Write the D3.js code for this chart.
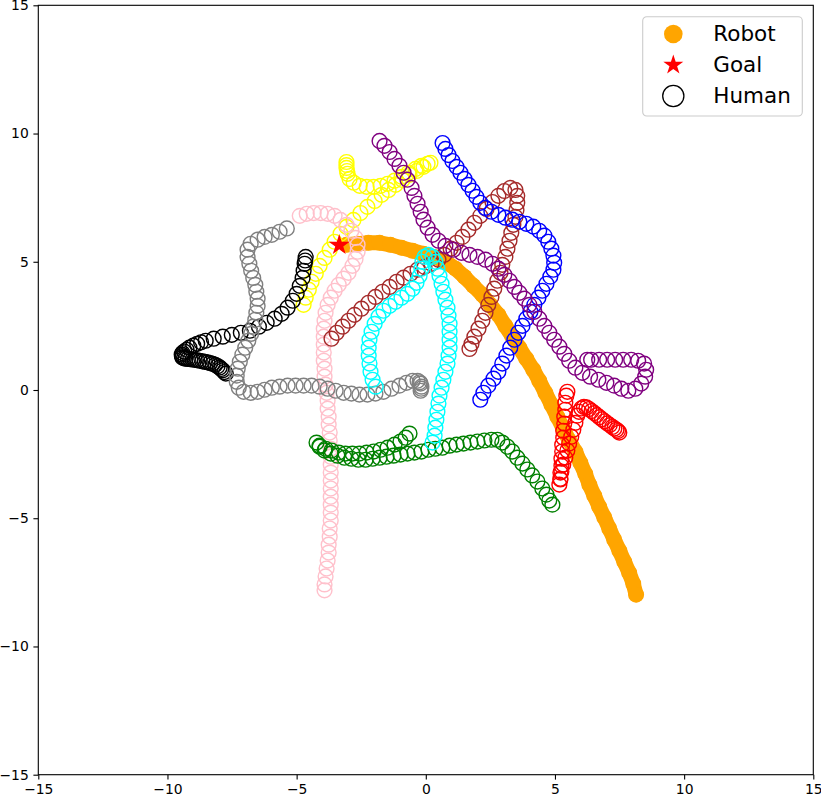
<!DOCTYPE html>
<html>
<head>
<meta charset="utf-8">
<script src="https://cdn.jsdelivr.net/npm/d3@7"></script>
<style>
  body { margin: 0; background: #fff; }
  svg { display: block; font-family: "DejaVu Sans", sans-serif; }
</style>
</head>
<body>
<div id="chart"></div>
<script>
// axis ticks
var tickValues = [-15, -10, -5, 0, 5, 10, 15];

// robot path (filled orange)
var robot = [[-3.07,5.66],[-2.64,5.70],[-2.22,5.74],[-1.79,5.74],[-1.37,5.66],[-0.94,5.55],[-0.51,5.43],[-0.09,5.31],[0.34,5.19],[0.76,5.00],[1.15,4.73],[1.50,4.41],[1.84,4.06],[2.19,3.71],[2.50,3.32],[2.81,2.93],[3.08,2.50],[3.35,2.08],[3.62,1.65],[3.89,1.22],[4.16,0.79],[4.39,0.36],[4.63,-0.11],[4.86,-0.57],[5.09,-1.04],[5.32,-1.51],[5.55,-1.97],[5.79,-2.40],[5.98,-2.83],[6.17,-3.26],[6.33,-3.69],[6.52,-4.12],[6.71,-4.55],[6.91,-4.97],[7.10,-5.40],[7.29,-5.83],[7.49,-6.26],[7.68,-6.69],[7.87,-7.12],[8.03,-7.55],[8.14,-7.98]];

var goal = [-3.35, 5.65];

// human paths (open circles)
var yellowHuman = [[-3.07,8.89],[-3.07,8.77],[-3.07,8.66],[-3.05,8.54],[-3.03,8.43],[-2.95,8.23],[-2.79,8.08],[-2.56,7.96],[-2.29,7.92],[-2.02,7.92],[-1.75,7.96],[-1.48,8.04],[-1.21,8.16],[-0.94,8.31],[-0.67,8.47],[-0.40,8.62],[-0.17,8.74],[0.07,8.82],[0.18,8.86],[-0.09,8.70],[-0.36,8.54],[-0.63,8.39],[-0.90,8.19],[-1.17,8.00],[-1.44,7.80],[-1.71,7.61],[-1.98,7.37],[-2.26,7.14],[-2.53,6.90],[-2.80,6.63],[-3.07,6.36],[-3.30,6.09],[-3.53,5.78],[-3.72,5.47],[-3.92,5.15],[-4.11,4.84],[-4.26,4.53],[-4.42,4.22],[-4.53,3.91],[-4.65,3.60],[-4.73,3.32]];

var pinkHuman = [[-4.88,6.79],[-4.61,6.87],[-4.34,6.90],[-4.07,6.90],[-3.80,6.87],[-3.53,6.79],[-3.30,6.63],[-3.07,6.44],[-2.88,6.21],[-2.72,5.93],[-2.64,5.66],[-2.64,5.39],[-2.72,5.11],[-2.84,4.84],[-2.99,4.57],[-3.18,4.34],[-3.37,4.10],[-3.53,3.87],[-3.68,3.60],[-3.80,3.32],[-3.88,3.01],[-3.92,2.70],[-3.95,2.39],[-3.95,2.08],[-3.95,1.77],[-3.95,1.46],[-3.95,1.14],[-3.92,0.83],[-3.92,0.52],[-3.88,0.21],[-3.84,-0.11],[-3.80,-0.42],[-3.80,-0.73],[-3.76,-1.04],[-3.76,-1.35],[-3.72,-1.66],[-3.72,-1.97],[-3.68,-2.29],[-3.68,-2.60],[-3.68,-2.91],[-3.68,-3.22],[-3.68,-3.53],[-3.68,-3.84],[-3.68,-4.16],[-3.68,-4.47],[-3.68,-4.78],[-3.68,-5.09],[-3.72,-5.40],[-3.72,-5.72],[-3.76,-6.03],[-3.76,-6.34],[-3.80,-6.65],[-3.84,-6.96],[-3.88,-7.27],[-3.92,-7.58],[-3.92,-7.81]];

var blackHuman = [[-4.65,5.19],[-4.67,5.05],[-4.69,4.92],[-4.73,4.65],[-4.77,4.37],[-4.88,4.06],[-5.00,3.75],[-5.15,3.48],[-5.35,3.21],[-5.58,2.97],[-5.85,2.78],[-6.16,2.62],[-6.46,2.47],[-6.81,2.31],[-7.16,2.23],[-7.51,2.15],[-7.86,2.08],[-8.21,2.00],[-8.52,1.92],[-8.70,1.86],[-8.85,1.80],[-9.00,1.73],[-9.15,1.65],[-9.26,1.57],[-9.35,1.50],[-9.42,1.44],[-9.45,1.38],[-9.44,1.32],[-9.42,1.27],[-9.36,1.24],[-9.30,1.22],[-9.21,1.21],[-9.12,1.20],[-9.03,1.19],[-8.95,1.18],[-8.85,1.16],[-8.75,1.14],[-8.65,1.12],[-8.55,1.10],[-8.45,1.08],[-8.35,1.05],[-8.25,1.02],[-8.15,0.98],[-8.06,0.93],[-7.98,0.88],[-7.92,0.82],[-7.86,0.77],[-7.80,0.70],[-7.74,0.64]];

var grayHuman = [[-5.38,6.30],[-5.66,6.17],[-5.96,6.05],[-6.24,5.97],[-6.51,5.86],[-6.78,5.70],[-6.90,5.47],[-6.90,5.19],[-6.83,4.92],[-6.76,4.65],[-6.68,4.37],[-6.60,4.10],[-6.56,3.83],[-6.51,3.56],[-6.51,3.28],[-6.56,3.01],[-6.60,2.74],[-6.68,2.47],[-6.76,2.19],[-6.87,1.92],[-6.99,1.65],[-7.10,1.38],[-7.20,1.10],[-7.28,0.83],[-7.32,0.56],[-7.32,0.32],[-7.24,0.09],[-7.05,-0.07],[-6.78,-0.11],[-6.51,-0.07],[-6.24,0.01],[-5.96,0.09],[-5.66,0.13],[-5.35,0.17],[-5.04,0.17],[-4.73,0.17],[-4.42,0.17],[-4.11,0.13],[-3.80,0.05],[-3.49,-0.03],[-3.18,-0.11],[-2.88,-0.14],[-2.57,-0.18],[-2.26,-0.18],[-1.95,-0.14],[-1.64,-0.07],[-1.33,0.05],[-1.02,0.17],[-0.75,0.28],[-0.51,0.36],[-0.32,0.36],[-0.24,0.30],[-0.20,0.25],[-0.17,0.13],[-0.18,0.05],[-0.20,-0.03]];

var greenHuman = [[-0.63,-1.70],[-0.78,-1.86],[-0.98,-2.01],[-1.21,-2.13],[-1.48,-2.25],[-1.75,-2.33],[-2.02,-2.40],[-2.29,-2.44],[-2.57,-2.48],[-2.84,-2.48],[-3.11,-2.48],[-3.37,-2.44],[-3.65,-2.36],[-3.88,-2.29],[-4.11,-2.17],[-4.23,-2.05],[-4.11,-2.21],[-3.92,-2.36],[-3.68,-2.48],[-3.42,-2.56],[-3.15,-2.64],[-2.88,-2.68],[-2.61,-2.72],[-2.33,-2.72],[-2.06,-2.68],[-1.79,-2.64],[-1.52,-2.60],[-1.25,-2.56],[-0.98,-2.52],[-0.71,-2.48],[-0.44,-2.44],[-0.17,-2.40],[0.10,-2.33],[0.37,-2.29],[0.64,-2.25],[0.92,-2.17],[1.19,-2.13],[1.46,-2.09],[1.73,-2.05],[2.00,-2.01],[2.27,-1.97],[2.54,-1.94],[2.77,-1.94],[2.96,-2.05],[3.16,-2.21],[3.35,-2.40],[3.54,-2.64],[3.74,-2.87],[3.93,-3.10],[4.12,-3.33],[4.32,-3.57],[4.51,-3.84],[4.67,-4.08],[4.78,-4.31],[4.90,-4.47]];

var redHuman = [[7.49,-1.66],[7.44,-1.60],[7.38,-1.55],[7.30,-1.50],[7.22,-1.44],[7.12,-1.37],[7.02,-1.30],[6.92,-1.22],[6.82,-1.14],[6.72,-1.06],[6.62,-0.98],[6.52,-0.90],[6.42,-0.82],[6.32,-0.74],[6.22,-0.68],[6.12,-0.66],[6.02,-0.72],[5.93,-0.85],[5.86,-1.00],[5.79,-1.28],[5.71,-1.55],[5.63,-1.82],[5.55,-2.09],[5.48,-2.36],[5.40,-2.64],[5.32,-2.91],[5.25,-3.18],[5.21,-3.46],[5.17,-3.69],[5.21,-3.49],[5.21,-3.22],[5.25,-2.95],[5.25,-2.68],[5.28,-2.40],[5.28,-2.13],[5.32,-1.86],[5.32,-1.59],[5.36,-1.31],[5.36,-1.04],[5.40,-0.77],[5.40,-0.50],[5.44,-0.22],[5.48,-0.07]];

var brownHuman = [[-3.65,2.00],[-3.45,2.23],[-3.22,2.47],[-2.99,2.70],[-2.76,2.93],[-2.49,3.17],[-2.22,3.40],[-1.95,3.63],[-1.68,3.83],[-1.40,4.02],[-1.13,4.22],[-0.86,4.38],[-0.59,4.53],[-0.32,4.69],[-0.05,4.80],[0.22,4.92],[0.49,5.08],[0.72,5.27],[0.96,5.51],[1.19,5.74],[1.42,5.97],[1.65,6.25],[1.88,6.52],[2.11,6.79],[2.35,7.06],[2.58,7.33],[2.81,7.57],[3.04,7.76],[3.27,7.88],[3.47,7.80],[3.54,7.57],[3.54,7.30],[3.51,7.02],[3.47,6.75],[3.39,6.44],[3.31,6.13],[3.24,5.82],[3.16,5.51],[3.08,5.19],[2.96,4.88],[2.89,4.57],[2.77,4.26],[2.65,3.95],[2.54,3.63],[2.42,3.32],[2.31,3.01],[2.19,2.70],[2.04,2.39],[1.88,2.08],[1.77,1.80],[1.69,1.60]];

var cyanHuman = [[-1.94,0.13],[-2.06,0.40],[-2.14,0.71],[-2.18,1.03],[-2.21,1.34],[-2.21,1.65],[-2.18,1.96],[-2.10,2.27],[-1.98,2.58],[-1.83,2.86],[-1.64,3.09],[-1.40,3.28],[-1.17,3.44],[-0.94,3.60],[-0.71,3.75],[-0.51,3.95],[-0.36,4.18],[-0.24,4.45],[-0.17,4.73],[-0.13,5.00],[-0.05,5.19],[0.10,5.27],[0.26,5.19],[0.37,5.00],[0.45,4.73],[0.53,4.45],[0.61,4.14],[0.68,3.83],[0.76,3.52],[0.84,3.21],[0.88,2.90],[0.92,2.58],[0.92,2.27],[0.92,1.96],[0.92,1.65],[0.88,1.34],[0.84,1.03],[0.76,0.71],[0.68,0.40],[0.61,0.09],[0.53,-0.22],[0.49,-0.53],[0.45,-0.85],[0.41,-1.16],[0.37,-1.47],[0.34,-1.78],[0.26,-2.05]];

var blueHuman = [[0.65,9.63],[0.76,9.40],[0.88,9.16],[1.03,8.93],[1.19,8.70],[1.34,8.47],[1.50,8.23],[1.65,8.00],[1.81,7.77],[1.96,7.53],[2.11,7.30],[2.30,7.10],[2.54,6.95],[2.81,6.83],[3.08,6.72],[3.35,6.64],[3.62,6.56],[3.89,6.48],[4.16,6.37],[4.39,6.21],[4.59,6.02],[4.74,5.78],[4.86,5.51],[4.94,5.24],[4.97,4.96],[4.94,4.69],[4.82,4.42],[4.67,4.14],[4.51,3.87],[4.36,3.60],[4.20,3.32],[4.05,3.05],[3.89,2.78],[3.74,2.50],[3.58,2.23],[3.43,1.96],[3.27,1.65],[3.12,1.34],[2.96,1.03],[2.81,0.71],[2.62,0.44],[2.42,0.17],[2.23,-0.11],[2.11,-0.38]];

var purpleHuman = [[-1.79,9.71],[-1.60,9.52],[-1.40,9.28],[-1.21,9.01],[-1.02,8.74],[-0.86,8.47],[-0.71,8.20],[-0.55,7.88],[-0.44,7.57],[-0.32,7.26],[-0.20,6.95],[-0.09,6.64],[0.07,6.33],[0.26,6.05],[0.49,5.82],[0.76,5.62],[1.07,5.47],[1.38,5.35],[1.69,5.27],[2.00,5.19],[2.31,5.08],[2.58,4.92],[2.81,4.73],[3.04,4.49],[3.24,4.26],[3.43,4.02],[3.62,3.79],[3.82,3.56],[4.01,3.32],[4.20,3.05],[4.39,2.78],[4.59,2.50],[4.78,2.23],[4.97,1.96],[5.17,1.69],[5.36,1.41],[5.55,1.14],[5.79,0.87],[6.06,0.67],[6.36,0.52],[6.68,0.40],[6.99,0.28],[7.29,0.17],[7.57,0.05],[7.84,-0.03],[8.11,0.05],[8.34,0.25],[8.49,0.52],[8.53,0.79],[8.45,1.03],[8.22,1.14],[7.95,1.18],[7.64,1.18],[7.33,1.18],[7.02,1.18],[6.71,1.18],[6.40,1.18],[6.25,1.18]];

var humans = [
  { color: "yellow", pts: yellowHuman },
  { color: "pink", pts: pinkHuman },
  { color: "black", pts: blackHuman },
  { color: "gray", pts: grayHuman },
  { color: "green", pts: greenHuman },
  { color: "red", pts: redHuman },
  { color: "brown", pts: brownHuman },
  { color: "cyan", pts: cyanHuman },
  { color: "blue", pts: blueHuman },
  { color: "purple", pts: purpleHuman }
];

var legendLabels = ["Robot", "Goal", "Human"];

var W = 821, H = 797;
var plotL = 38.3, plotR = 813.3, plotT = 5.3, plotB = 774.7;

var svg = d3.select("#chart").append("svg")
    .attr("width", W)
    .attr("height", H);

var x = d3.scaleLinear().domain([-15, 15]).range([plotL, plotR]);
var y = d3.scaleLinear().domain([-15, 15]).range([plotB, plotT]);

// robot: thick band under the filled markers
var line = d3.line().x(function(d) { return x(d[0]); }).y(function(d) { return y(d[1]); });
svg.append("path")
    .datum(robot)
    .attr("d", line)
    .attr("fill", "none")
    .attr("stroke", "orange")
    .attr("stroke-width", 15)
    .attr("stroke-linecap", "round")
    .attr("stroke-linejoin", "round");

svg.append("g").selectAll("circle")
    .data(robot)
    .enter().append("circle")
      .attr("cx", function(d) { return x(d[0]); })
      .attr("cy", function(d) { return y(d[1]); })
      .attr("r", 8)
      .attr("fill", "orange");

// humans
humans.forEach(function(h) {
  svg.append("g").selectAll("circle")
    .data(h.pts)
    .enter().append("circle")
      .attr("cx", function(d) { return x(d[0]); })
      .attr("cy", function(d) { return y(d[1]); })
      .attr("r", 7.4)
      .attr("fill", "none")
      .attr("stroke", h.color)
      .attr("stroke-width", 1.4);
});

// goal star
var starOuter = 11;
svg.append("path")
    .attr("d", d3.symbol().type(d3.symbolStar).size(starOuter * starOuter / 0.8908130915292852)())
    .attr("transform", "translate(" + x(goal[0]) + "," + y(goal[1]) + ")")
    .attr("fill", "red");

// axes
var xAxis = d3.axisBottom(x).tickValues(tickValues).tickSize(4.9).tickPadding(4.6).tickSizeOuter(0);
var yAxis = d3.axisLeft(y).tickValues(tickValues).tickSize(4.9).tickPadding(4.6).tickSizeOuter(0);

var gx = svg.append("g").attr("transform", "translate(0," + plotB + ")").call(xAxis);
var gy = svg.append("g").attr("transform", "translate(" + plotL + ",0)").call(yAxis);
[gx, gy].forEach(function(g) {
  g.select(".domain").remove();
  g.selectAll("line").attr("stroke", "#000").attr("stroke-width", 1.1);
  g.selectAll("text").attr("fill", "#000").style("font-size", "13.9px").style("font-family", "DejaVu Sans");
});

// frame
svg.append("rect")
    .attr("x", plotL).attr("y", plotT)
    .attr("width", plotR - plotL).attr("height", plotB - plotT)
    .attr("fill", "none")
    .attr("stroke", "#000")
    .attr("stroke-width", 1.1);

// legend
var lg = svg.append("g").attr("transform", "translate(642.7,16.7)");
lg.append("rect")
    .attr("width", 159.6).attr("height", 99.3)
    .attr("rx", 4).attr("ry", 4)
    .attr("fill", "#fff").attr("fill-opacity", 0.8)
    .attr("stroke", "#cccccc").attr("stroke-width", 1.1);

var rowY = [17.3, 48.3, 79.3];
lg.append("circle").attr("cx", 30.6).attr("cy", rowY[0]).attr("r", 9.3).attr("fill", "orange");
lg.append("path")
    .attr("d", d3.symbol().type(d3.symbolStar).size(10.5 * 10.5 / 0.8908130915292852)())
    .attr("transform", "translate(30.6," + rowY[1] + ")")
    .attr("fill", "red");
lg.append("circle").attr("cx", 30.6).attr("cy", rowY[2]).attr("r", 10.6)
    .attr("fill", "none").attr("stroke", "#000").attr("stroke-width", 1.3);

lg.selectAll("text.lab")
  .data(legendLabels)
  .enter().append("text")
    .attr("class", "lab")
    .attr("x", 70.6)
    .attr("y", function(d, i) { return rowY[i] + 7.5; })
    .style("font-size", "21.5px")
    .attr("fill", "#000")
    .text(function(d) { return d; });
</script>
</body>
</html>
